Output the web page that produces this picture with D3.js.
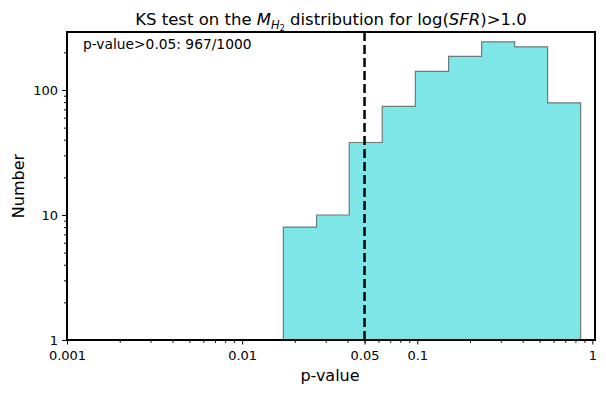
<!DOCTYPE html>
<html>
<head>
<meta charset="utf-8">
<script src="https://cdn.jsdelivr.net/npm/d3@7"></script>
<style>
  body { margin: 0; background: #fff; }
  text { font-family: "DejaVu Sans", sans-serif; fill: #000; }
</style>
</head>
<body>
<div id="chart"></div>
<script>
// bin edges (p-value, log spaced) and counts
var binEdges = [0.0172, 0.0266, 0.0409, 0.0631, 0.0975, 0.151, 0.233, 0.360, 0.555, 0.857];
var counts = [8, 10, 38, 74, 141, 186, 243, 221, 79];
var xTicks = [0.001, 0.01, 0.05, 0.1, 1];
var xTickLabels = ["0.001", "0.01", "0.05", "0.1", "1"];
var yTicks = [1, 10, 100];
var threshold = 0.05;
var note = "p-value>0.05: 967/1000";

var W = 606, H = 394;
var margin = {left: 67, right: 11, top: 32, bottom: 54};
var w = W - margin.left - margin.right;
var h = H - margin.top - margin.bottom;

var svg = d3.select("#chart").append("svg")
  .attr("width", W).attr("height", H);

var x = d3.scaleLog().domain([0.001, 1.035]).range([margin.left, margin.left + w]);
var y = d3.scaleLog().domain([1, 291]).range([margin.top + h, margin.top]);

// step-filled histogram
var pts = [[binEdges[0], 1]];
counts.forEach(function(c, i){
  pts.push([binEdges[i], c]);
  pts.push([binEdges[i+1], c]);
});
pts.push([binEdges[binEdges.length-1], 1]);

var line = d3.line().x(d => x(d[0])).y(d => y(d[1]));
svg.append("path")
  .attr("d", line(pts) + "Z")
  .attr("fill", "#7fe6e7")
  .attr("stroke", "#6b7b7b")
  .attr("stroke-width", 1.2);

// threshold line
svg.append("line")
  .attr("x1", x(threshold)).attr("x2", x(threshold))
  .attr("y1", margin.top).attr("y2", margin.top + h)
  .attr("stroke", "#000").attr("stroke-width", 2.5)
  .attr("stroke-dasharray", "9,4");

// minor ticks
var xMinor = [];
[0.001, 0.01, 0.1].forEach(function(d){
  for (var k = 2; k <= 9; k++) xMinor.push(d*k);
});
var yMinor = [];
[1, 10, 100].forEach(function(d){
  for (var k = 2; k <= 9; k++) if (d*k <= 291) yMinor.push(d*k);
});

var xAxis = d3.axisBottom(x).tickValues(xTicks)
  .tickFormat((d, i) => xTickLabels[i]).tickSizeOuter(0).tickSize(4.5).tickPadding(6);
var xAxisMinor = d3.axisBottom(x).tickValues(xMinor).tickFormat("").tickSizeOuter(0).tickSize(2.8);
var yAxis = d3.axisLeft(y).tickValues(yTicks).tickFormat(d3.format("d")).tickSizeOuter(0).tickSize(5).tickPadding(4);
var yAxisMinor = d3.axisLeft(y).tickValues(yMinor).tickFormat("").tickSizeOuter(0).tickSize(3);

function styleAxis(g){
  g.select(".domain").remove();
  g.selectAll(".tick line").attr("stroke", "#000").attr("stroke-width", 1);
  g.selectAll("text").style("font-family", "DejaVu Sans").style("font-size", "13px").attr("fill", "#000");
}

svg.append("g").attr("transform", "translate(0," + (margin.top + h) + ")").call(xAxisMinor).call(styleAxis);
svg.append("g").attr("transform", "translate(0," + (margin.top + h) + ")").call(xAxis).call(styleAxis);
svg.append("g").attr("transform", "translate(" + margin.left + ",0)").call(yAxisMinor).call(styleAxis);
svg.append("g").attr("transform", "translate(" + margin.left + ",0)").call(yAxis).call(styleAxis);

// frame
svg.append("rect")
  .attr("x", margin.left).attr("y", margin.top)
  .attr("width", w).attr("height", h)
  .attr("fill", "none").attr("stroke", "#000").attr("stroke-width", 2);

// annotation
svg.append("text")
  .attr("x", 83).attr("y", 49)
  .style("font-size", "13.8px")
  .text(note);

// axis labels
svg.append("text")
  .attr("x", margin.left + w/2 - 1).attr("y", 381)
  .attr("text-anchor", "middle")
  .style("font-size", "16px")
  .text("p-value");

svg.append("text")
  .attr("transform", "translate(24," + (margin.top + h/2) + ") rotate(-90)")
  .attr("text-anchor", "middle")
  .style("font-size", "16px")
  .text("Number");

// title with math
var title = svg.append("text")
  .attr("x", margin.left + w/2) .attr("y", 25)
  .attr("text-anchor", "middle")
  .style("font-size", "16.5px");
title.append("tspan").text("KS test on the ");
title.append("tspan").style("font-style", "italic").text("M");
title.append("tspan").attr("dy", 3.5).style("font-size", "11.5px").style("font-style", "italic").text("H");
title.append("tspan").attr("dy", 2).style("font-size", "8px").text("2");
title.append("tspan").attr("dy", -5.5).text(" distribution for log(");
title.append("tspan").style("font-style", "italic").text("SFR");
title.append("tspan").text(")>1.0");
</script>
</body>
</html>
